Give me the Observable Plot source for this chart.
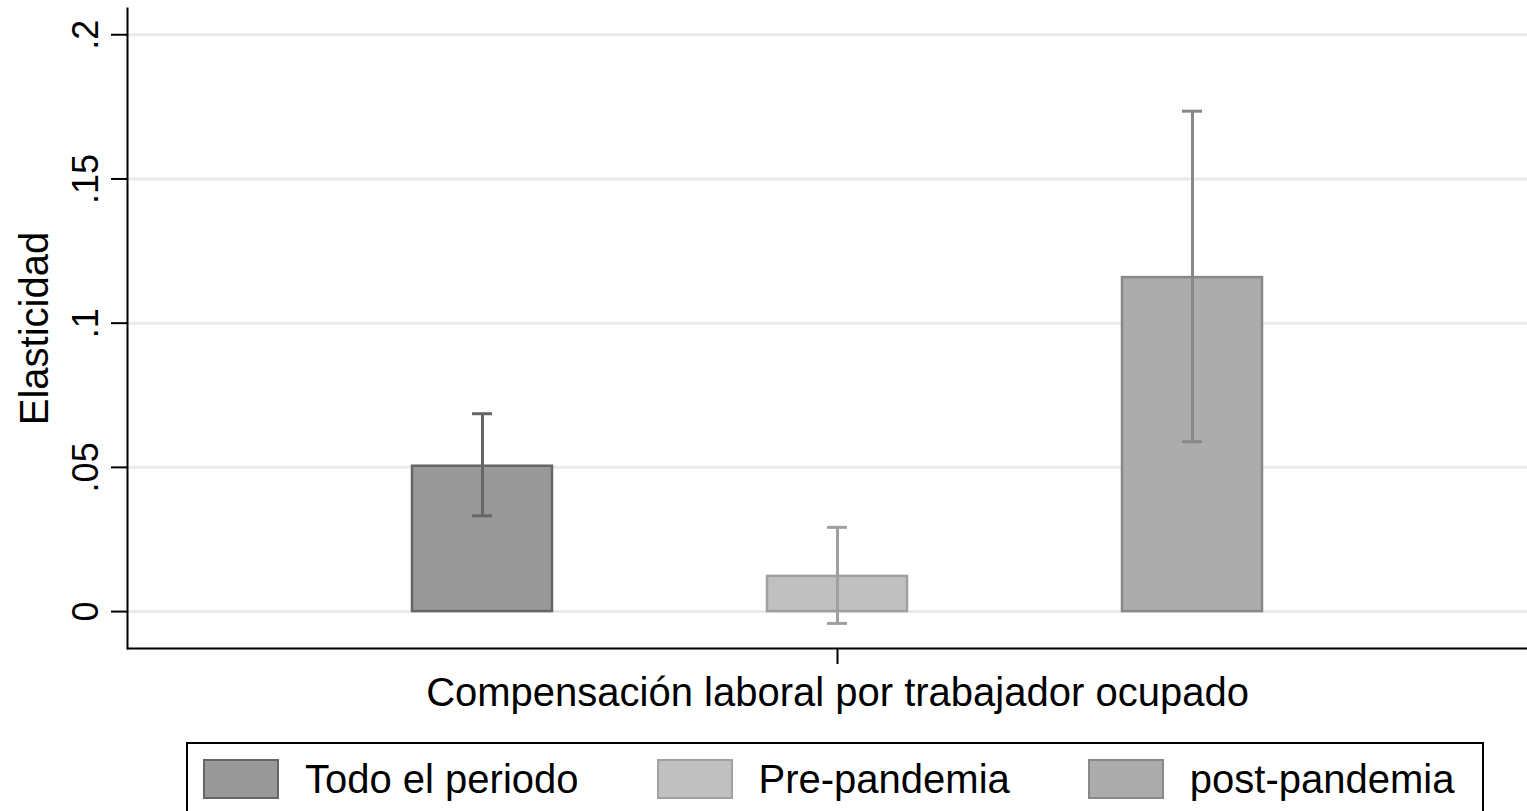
<!DOCTYPE html>
<html>
<head>
<meta charset="utf-8">
<script src="https://cdn.jsdelivr.net/npm/d3@7"></script>
<script src="https://cdn.jsdelivr.net/npm/@observablehq/plot@0.6"></script>
<style>
  html, body { margin: 0; padding: 0; background: #fff; overflow: hidden; }
  body { width: 1527px; height: 811px; position: relative; font-family: "Liberation Sans", Arial, sans-serif; }
  #chart { position: absolute; left: 0; top: 0; width: 1547px; }
  #chart svg { max-width: none !important; }
  #legend { position: absolute; left: 186px; top: 742px; width: 1298px; height: 100px;
            border: 2px solid #000; box-sizing: border-box; display: flex; align-items: flex-start;
            padding: 15px 0 0 15px; font-size: 40px; color: #000; white-space: nowrap; }
  .item { display: flex; align-items: center; margin-right: 78px; height: 40px; flex: none; }
  .sw { width: 76px; height: 40px; box-sizing: border-box; border: 2.5px solid; margin-right: 26px; flex: none; }
</style>
</head>
<body>
<div id="chart"></div>
<div id="legend"></div>
<script>
// ---- data ----
const category = "Compensación laboral por trabajador ocupado";
const series = ["Todo el periodo", "Pre-pandemia", "post-pandemia"];
const estimates = [0.0504, 0.0122, 0.1158];
const lower = [0.0332, -0.0041, 0.0589];
const upper = [0.0686, 0.0292, 0.1735];
const yTicks = [0, 0.05, 0.1, 0.15, 0.2];
const yTickLabels = ["0", ".05", ".1", ".15", ".2"];
const yLabel = "Elasticidad";

// ---- styles ----
const fills = ["#999999", "#c0c0c0", "#acacac"];
const strokes = ["#666666", "#a0a0a0", "#888888"];

const rows = series.map((s, i) => ({
  category, series: s, est: estimates[i], lo: lower[i], hi: upper[i]
}));

const marks = [
  Plot.gridY(yTicks, {stroke: "#eaeaea", strokeWidth: 3, strokeOpacity: 1}),
];
rows.forEach((r, i) => {
  marks.push(Plot.barY([r], {fx: "category", x: "series", y: "est", fill: fills[i], stroke: strokes[i], strokeWidth: 2.5}));
});
rows.forEach((r, i) => {
  marks.push(Plot.ruleX([r], {fx: "category", x: "series", y1: "lo", y2: "hi", stroke: strokes[i], strokeWidth: 3}));
  marks.push(Plot.tickY([r], {fx: "category", x: "series", y: "lo", stroke: strokes[i], strokeWidth: 3, insetLeft: 60, insetRight: 60}));
  marks.push(Plot.tickY([r], {fx: "category", x: "series", y: "hi", stroke: strokes[i], strokeWidth: 3, insetLeft: 60, insetRight: 60}));
});
marks.push(Plot.ruleY([-0.0128], {stroke: "#000", strokeWidth: 2}));
marks.push(Plot.frame({anchor: "left", stroke: "#000", strokeWidth: 2}));
marks.push(Plot.axisY({
  ticks: yTicks, tickFormat: d => yTickLabels[yTicks.indexOf(d)], tickSize: 16, tickPadding: 14,
  tickRotate: -90, fontSize: 36, stroke: "#000", strokeWidth: 2, label: null
}));
marks.push(Plot.text([yLabel], {text: d => d, frameAnchor: "left", dx: -92, rotate: -90,
  textAnchor: "middle", lineAnchor: "middle", fontSize: 40, fill: "#000"}));
marks.push(Plot.axisFx({anchor: "bottom", tickSize: 16, tickPadding: 13, fontSize: 40, label: null, strokeWidth: 2}));

const chart = Plot.plot({
  width: 1547, height: 730,
  marginLeft: 127, marginRight: 0, marginTop: 8, marginBottom: 82,
  style: {fontFamily: "Liberation Sans, Arial, sans-serif", fontSize: "36px", color: "#000", background: "#fff", maxWidth: "none"},
  fx: {domain: [category], padding: 0, axis: null},
  x: {domain: series, paddingInner: 0.6056, paddingOuter: 0.8028, axis: null},
  y: {domain: [-0.0128, 0.2091], axis: null},
  marks
});
document.getElementById("chart").appendChild(chart);

// legend
const legend = document.getElementById("legend");
series.forEach((s, i) => {
  const it = document.createElement("div"); it.className = "item";
  const sw = document.createElement("div"); sw.className = "sw";
  sw.style.background = fills[i]; sw.style.borderColor = strokes[i];
  const t = document.createElement("span"); t.textContent = s;
  it.appendChild(sw); it.appendChild(t); legend.appendChild(it);
});
</script>
</body>
</html>
